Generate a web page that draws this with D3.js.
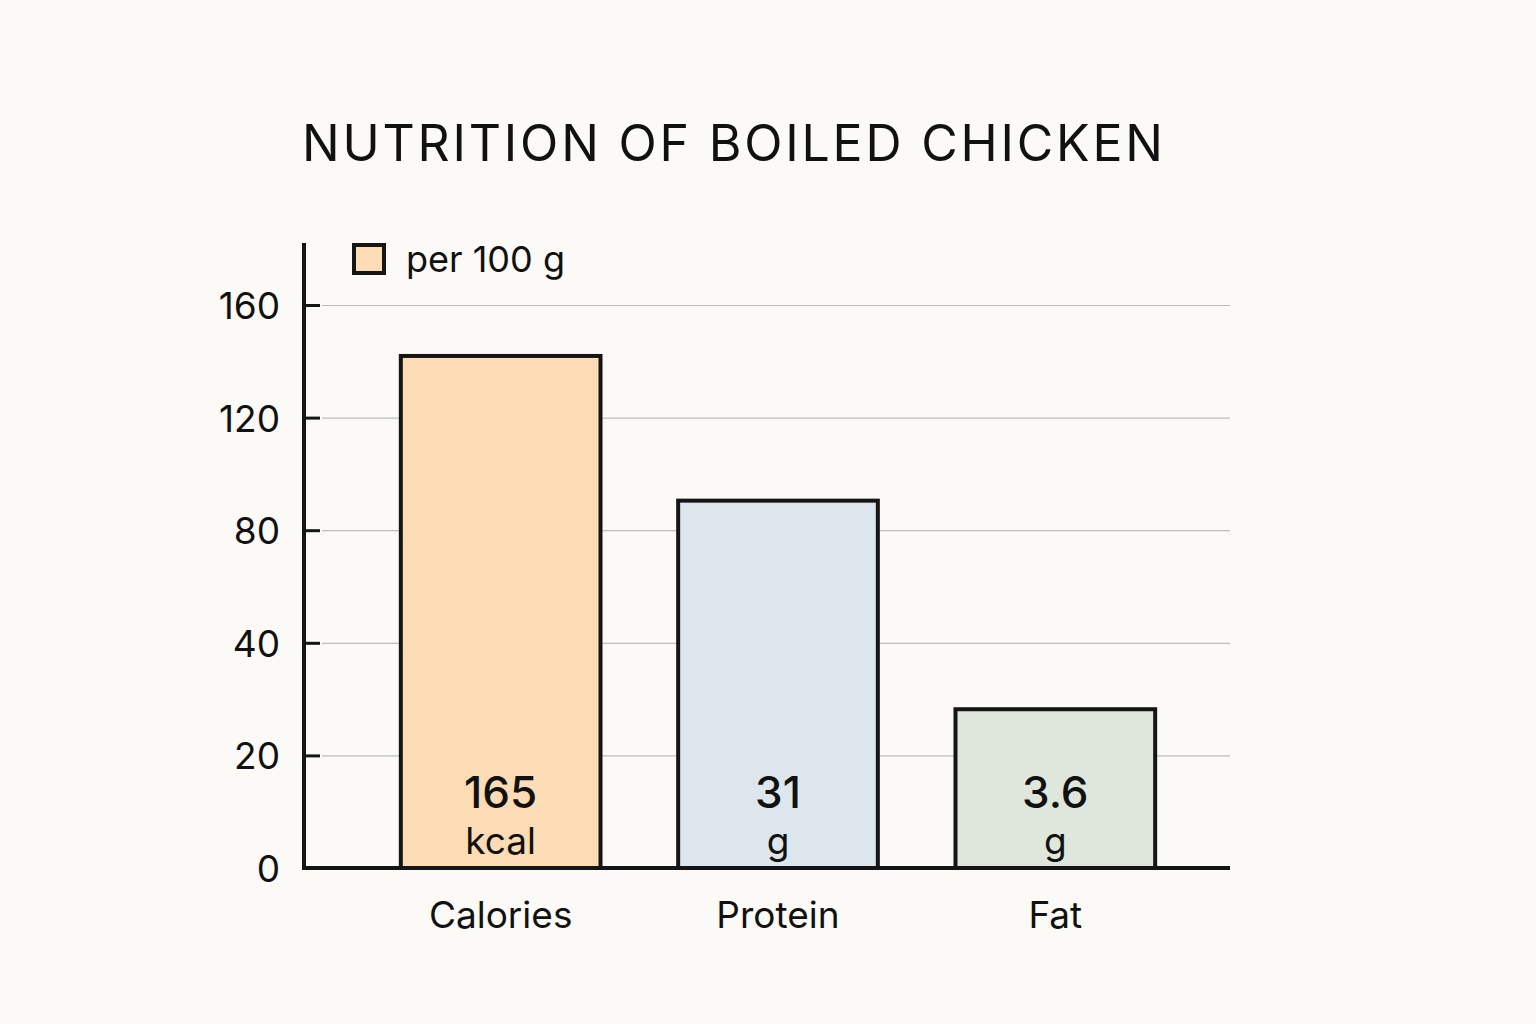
<!DOCTYPE html>
<html>
<head>
<meta charset="utf-8">
<script src="https://cdn.jsdelivr.net/npm/d3@7"></script>
<style>
  html, body { margin: 0; padding: 0; background: #fbfaf6; }
  svg { display: block; font-family: Inter, Roboto, sans-serif; }
  .grid line { stroke: #bdbdbd; stroke-width: 1.2; }
  .grid path { display: none; }
</style>
</head>
<body>
<svg id="chart" width="1536" height="1024"></svg>
<script>
// data
const categories = ['Calories', 'Protein', 'Fat'];
const barHeights = [141.9, 90.5, 28.2];   // where each bar sits on the y axis
const valueLabels = ['165', '31', '3.6'];
const unitLabels = ['kcal', 'g', 'g'];
const barColors = ['#fbdcb4', '#dce6ec', '#dfe7dc'];
const yTicks = [0, 20, 40, 80, 120, 160];
const legendLabel = 'per 100 g';
const titleText = 'NUTRITION OF BOILED CHICKEN';

const svg = d3.select('#chart');
const left = 304, right = 1230, bottom = 868, tickStep = 112.6;

// ticks are evenly spaced even though the values are not
const yScale = d3.scaleLinear()
    .domain(yTicks)
    .range(yTicks.map((d, i) => bottom - i * tickStep));

const xScale = d3.scaleBand()
    .domain(categories)
    .range([362, 1194])
    .paddingInner(0.28)
    .paddingOuter(0.14);

// grid lines
svg.append('g')
    .attr('class', 'grid')
    .attr('transform', `translate(${left + 18}, 0)`)
    .call(d3.axisLeft(yScale)
        .tickValues(yTicks.slice(1))
        .tickSize(-(right - left - 18))
        .tickFormat(''));

// bars
const bars = svg.selectAll('.bar')
    .data(categories)
    .enter()
    .append('g')
    .attr('class', 'bar');

bars.append('rect')
    .attr('x', d => xScale(d))
    .attr('y', (d, i) => yScale(barHeights[i]))
    .attr('width', xScale.bandwidth())
    .attr('height', (d, i) => bottom - yScale(barHeights[i]))
    .attr('fill', (d, i) => barColors[i])
    .attr('stroke', '#151515')
    .attr('stroke-width', 4);

bars.append('text')
    .attr('x', d => xScale(d) + xScale.bandwidth() / 2)
    .attr('y', 808)
    .attr('text-anchor', 'middle')
    .attr('font-size', 44)
    .attr('font-weight', 500)
    .attr('fill', '#111')
    .text((d, i) => valueLabels[i]);

bars.append('text')
    .attr('x', d => xScale(d) + xScale.bandwidth() / 2)
    .attr('y', 854)
    .attr('text-anchor', 'middle')
    .attr('font-size', 37)
    .attr('fill', '#111')
    .text((d, i) => unitLabels[i]);

// y axis
const yAxis = svg.append('g')
    .attr('transform', `translate(${left}, 0)`)
    .call(d3.axisRight(yScale).tickValues(yTicks.slice(1)).tickSize(16).tickFormat(''));
yAxis.select('.domain').remove();
yAxis.selectAll('.tick line').attr('stroke', '#151515').attr('stroke-width', 3);

svg.append('line')
    .attr('x1', left).attr('x2', left)
    .attr('y1', 243).attr('y2', bottom + 2)
    .attr('stroke', '#151515').attr('stroke-width', 4);

svg.selectAll('.ylabel')
    .data(yTicks)
    .enter()
    .append('text')
    .attr('class', 'ylabel')
    .attr('x', 280)
    .attr('y', d => yScale(d) + 14)
    .attr('text-anchor', 'end')
    .attr('font-size', 37)
    .attr('fill', '#111')
    .text(d => d);

// x axis
svg.append('line')
    .attr('x1', left).attr('x2', right)
    .attr('y1', bottom).attr('y2', bottom)
    .attr('stroke', '#151515').attr('stroke-width', 4);

svg.selectAll('.xlabel')
    .data(categories)
    .enter()
    .append('text')
    .attr('class', 'xlabel')
    .attr('x', d => xScale(d) + xScale.bandwidth() / 2)
    .attr('y', 928)
    .attr('text-anchor', 'middle')
    .attr('font-size', 37)
    .attr('fill', '#111')
    .text(d => d);

// legend
svg.append('rect')
    .attr('x', 354).attr('y', 245)
    .attr('width', 30).attr('height', 28)
    .attr('fill', barColors[0])
    .attr('stroke', '#151515').attr('stroke-width', 4);

svg.append('text')
    .attr('x', 406).attr('y', 272)
    .attr('font-size', 36)
    .attr('fill', '#111')
    .text(legendLabel);

// title, spaced out to span the same width as the reference
const title = svg.append('text')
    .attr('x', 302).attr('y', 161)
    .attr('font-size', 50)
    .attr('fill', '#111')
    .text(titleText);
const plainWidth = title.node().getComputedTextLength();
title.attr('letter-spacing', (861 - plainWidth) / (titleText.length - 1));
</script>
</body>
</html>
